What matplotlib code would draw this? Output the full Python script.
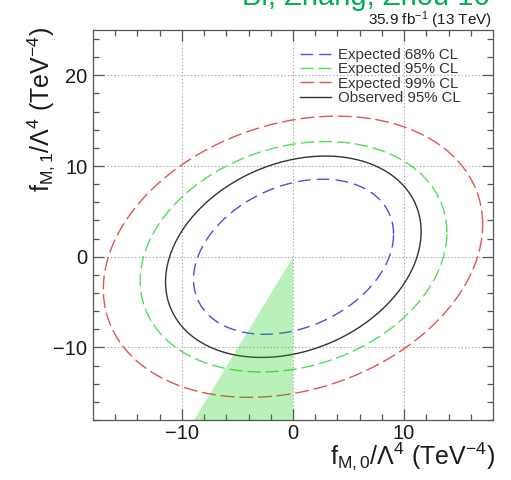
import numpy as np
import matplotlib
matplotlib.use("Agg")
import matplotlib.pyplot as plt
from matplotlib.patches import Polygon
from matplotlib.lines import Line2D

plt.rcParams['font.family'] = ['Liberation Sans', 'DejaVu Sans']
plt.rcParams['mathtext.fontset'] = 'custom'
plt.rcParams['mathtext.rm'] = 'Liberation Sans'
plt.rcParams['mathtext.it'] = 'Liberation Sans'
plt.rcParams['mathtext.bf'] = 'Liberation Sans:bold'
plt.rcParams['lines.scale_dashes'] = False

# ---- data ----
labels = ['Expected 68% CL', 'Expected 95% CL', 'Expected 99% CL', 'Observed 95% CL']
colors = ['#4d4de6', '#55dd55', '#e65252', '#333333']
dashes = [(0, (9.0, 4.5)), (0, (9.5, 3.5)), (0, (10.0, 3.5)), '-']
# ellipse parameters: centre, half-extent in x, half-extent in y, correlation
cx = [0.05, 0.05, 0.0, 0.03]
cy = [0.0, 0.0, 0.0, 0.0]
sx = [9.0, 13.8, 17.07, 11.5]
sy = [8.55, 12.7, 15.5, 11.1]
rho = [0.29, 0.21, 0.23, 0.25]

wedge_x = [0.0, 0.0, -8.95]
wedge_y = [0.0, -18.0, -18.0]

xticks_major = [-10, 0, 10]
yticks_major = [-10, 0, 10, 20]

fig = plt.figure(figsize=(5.11, 4.8), dpi=100)
ax = fig.add_axes([93/511, 60/480, 400/511, 390/480])

t = np.linspace(0, 2*np.pi, 720, endpoint=False)
handles = []
for i in range(4):
    x = cx[i] + sx[i]*np.cos(t)
    y = cy[i] + sy[i]*(rho[i]*np.cos(t) + np.sqrt(1 - rho[i]**2)*np.sin(t))
    poly = Polygon(np.column_stack([x, y]), closed=True, fill=False,
                   edgecolor=colors[i], lw=1.0, linestyle=dashes[i], zorder=2,
                   joinstyle='round')
    ax.add_patch(poly)
    handles.append(Line2D([], [], color=colors[i], lw=1.0, linestyle=dashes[i], label=labels[i]))

ax.fill(wedge_x, wedge_y, color=(0.0, 0.8, 0.0), alpha=0.27, lw=0, zorder=3)

ax.set_xlim(-18, 18)
ax.set_ylim(-18, 25)
ax.set_xticks(xticks_major)
ax.set_yticks(yticks_major)
ax.set_xticks(np.arange(-16, 18, 2), minor=True)
ax.set_yticks(np.arange(-18, 25, 2), minor=True)
ax.grid(True, which='major', linestyle=(0, (1, 1.5)), color='#aaaaaa', lw=0.8, zorder=0)
ax.tick_params(which='both', direction='in', top=True, right=True, color='#555555',
               labelsize=14.5, labelcolor='#1a1a1a')
ax.tick_params(which='major', length=8, width=0.9, pad=4)
ax.tick_params(axis='x', which='major', pad=3)
ax.tick_params(which='minor', length=4.5, width=0.9)
for s in ax.spines.values():
    s.set_color('#555555')
    s.set_linewidth(0.9)

ax.set_xlabel(r'$\mathrm{f_{M,0}/\Lambda^{4}}$ (TeV$^{-4}$)', fontsize=18, color='#1a1a1a', ha='right')
ax.xaxis.set_label_coords(1.005, -0.1128)
ax.xaxis.label.set_va('baseline')
ax.set_ylabel(r'$\mathrm{f_{M,1}/\Lambda^{4}}$ (TeV$^{-4}$)', fontsize=18, color='#1a1a1a', ha='right')
ax.yaxis.set_label_coords(-0.11, 1.0077)
ax.yaxis.label.set_va('baseline')

ax.text(0.9975, 1.0128, r'35.9 fb$^{-1}$ (13 TeV)', transform=ax.transAxes,
        ha='right', va='baseline', fontsize=11, color='#1a1a1a')
fig.text(490/511, 1 - 5/480, 'Bi, Zhang, Zhou 16', ha='right', va='baseline',
         fontsize=21, color='#00b050')

leg = ax.legend(handles=handles, loc='upper left', bbox_to_anchor=(300/511, 1 - 48/480),
                bbox_transform=fig.transFigure, frameon=False, fontsize=10.8,
                handlelength=2.05, handletextpad=0.45, labelspacing=0.02,
                borderpad=0, borderaxespad=0)
for txt in leg.get_texts():
    txt.set_color('#333333')

fig.savefig('out.png', dpi=100)
